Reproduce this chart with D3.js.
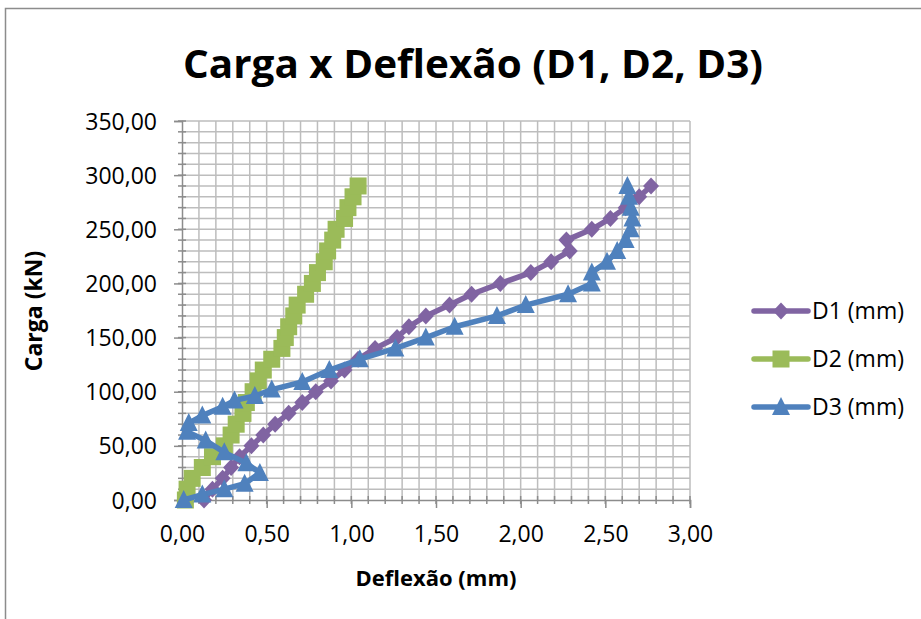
<!DOCTYPE html>
<html lang="pt">
<head>
<meta charset="UTF-8">
<title>Carga x Deflexão (D1, D2, D3)</title>
<style>
  body { margin: 0; background: #fff; }
  svg { display: block; font-family: "Open Sans", sans-serif; }
</style>
</head>
<body>
<svg width="921" height="619"></svg>
<script src="https://d3js.org/d3.v7.min.js"></script>
<script>
// carga (kN) e deflexão (mm)
const d1Load = [0, 10, 20, 30, 40, 50, 60, 70, 80, 90, 100, 110, 120, 130, 140, 150, 160, 170, 180, 190, 200, 210, 220, 230, 240, 250, 260, 270, 280, 290];
const d1Defl = [0.13, 0.18, 0.24, 0.29, 0.34, 0.41, 0.48, 0.55, 0.63, 0.71, 0.79, 0.88, 0.96, 1.04, 1.14, 1.27, 1.34, 1.44, 1.58, 1.71, 1.88, 2.06, 2.18, 2.29, 2.27, 2.42, 2.53, 2.62, 2.70, 2.77];

const d2Load = [0, 10, 20, 30, 40, 50, 60, 70, 80, 90, 100, 110, 120, 130, 140, 150, 160, 170, 180, 190, 200, 210, 220, 230, 240, 250, 260, 270, 280, 290];
const d2Defl = [0.02, 0.03, 0.06, 0.12, 0.18, 0.25, 0.29, 0.32, 0.36, 0.38, 0.42, 0.45, 0.48, 0.53, 0.59, 0.61, 0.63, 0.66, 0.68, 0.73, 0.77, 0.80, 0.84, 0.86, 0.89, 0.91, 0.96, 0.98, 1.01, 1.04];

const d3Load = [0, 5, 10, 15, 25, 34, 44, 55, 63, 71, 78, 86, 92, 96, 102, 109, 120, 130, 140, 150, 160, 170, 180, 190, 200, 210, 220, 230, 240, 250, 260, 270, 280, 290];
const d3Defl = [0.01, 0.12, 0.25, 0.37, 0.46, 0.38, 0.25, 0.14, 0.03, 0.04, 0.12, 0.24, 0.31, 0.43, 0.53, 0.71, 0.87, 1.05, 1.26, 1.44, 1.61, 1.86, 2.03, 2.28, 2.42, 2.42, 2.51, 2.57, 2.62, 2.65, 2.66, 2.65, 2.64, 2.63];

const xTicks = [0, 0.5, 1, 1.5, 2, 2.5, 3];
const yTicks = [0, 50, 100, 150, 200, 250, 300, 350];

const series = [
  { name: "D1 (mm)", color: "#8064A2", shape: "diamond", load: d1Load, defl: d1Defl },
  { name: "D2 (mm)", color: "#9BBB59", shape: "square", load: d2Load, defl: d2Defl },
  { name: "D3 (mm)", color: "#4F81BD", shape: "triangle", load: d3Load, defl: d3Defl }
];

const svg = d3.select("svg");
const fmt = v => d3.format(".2f")(v).replace(".", ",");

const x = d3.scaleLinear().domain([0, 3]).range([182, 690]);
const y = d3.scaleLinear().domain([0, 350]).range([500, 121]);

// moldura do gráfico
svg.append("rect")
  .attr("x", 5.5).attr("y", 8.5)
  .attr("width", 1000).attr("height", 1000)
  .attr("fill", "#fff")
  .attr("stroke", "#8c8c8c")
  .attr("stroke-width", 1.5);

svg.append("text")
  .attr("x", 473).attr("y", 78)
  .attr("text-anchor", "middle")
  .attr("font-size", 40).attr("font-weight", "bold")
  .attr("textLength", 580).attr("lengthAdjust", "spacingAndGlyphs")
  .text("Carga x Deflexão (D1, D2, D3)");

// grade (principal e secundária)
const grid = svg.append("g").attr("stroke", "#bdbdbd").attr("stroke-width", 1.5);
grid.selectAll(".gx")
  .data(d3.range(1, 31).map(i => i / 10))
  .join("line")
  .attr("x1", d => x(d)).attr("x2", d => x(d))
  .attr("y1", y(0)).attr("y2", y(350));
grid.selectAll(".gy")
  .data(d3.range(1, 36).map(i => i * 10))
  .join("line")
  .attr("x1", x(0)).attr("x2", x(3))
  .attr("y1", d => y(d)).attr("y2", d => y(d));

// eixos
const axisColor = "#8c8c8c";
const xAxis = svg.append("g").attr("transform", `translate(0,${y(0)})`)
  .call(d3.axisBottom(x).tickValues(xTicks).tickSize(8).tickFormat(fmt));
const yAxis = svg.append("g").attr("transform", `translate(${x(0)},0)`)
  .call(d3.axisLeft(y).tickValues(yTicks).tickSize(8).tickFormat(fmt));
[xAxis, yAxis].forEach(a => {
  a.select(".domain").attr("stroke", axisColor).attr("stroke-width", 1.5);
  a.selectAll(".tick line").attr("stroke", axisColor).attr("stroke-width", 1.5);
  a.selectAll("text").attr("fill", "#000").attr("font-size", 23)
    .attr("font-family", "'Open Sans', sans-serif");
});
xAxis.selectAll("text").attr("y", 19).attr("dy", "1em");
yAxis.selectAll("text").attr("x", -25).attr("dy", "0.35em");

// marcas secundárias
svg.append("g").attr("stroke", axisColor).attr("stroke-width", 1.5)
  .selectAll("line")
  .data(d3.range(1, 31).map(i => i / 10))
  .join("line")
  .attr("x1", d => x(d)).attr("x2", d => x(d))
  .attr("y1", y(0) - 4).attr("y2", y(0) + 4);
svg.append("g").attr("stroke", axisColor).attr("stroke-width", 1.5)
  .selectAll("line")
  .data(d3.range(1, 36).map(i => i * 10))
  .join("line")
  .attr("x1", x(0) - 4).attr("x2", x(0) + 4)
  .attr("y1", d => y(d)).attr("y2", d => y(d));

// títulos dos eixos
svg.append("text")
  .attr("x", 436).attr("y", 586)
  .attr("text-anchor", "middle")
  .attr("font-size", 22).attr("font-weight", "bold")
  .text("Deflexão (mm)");
svg.append("text")
  .attr("transform", "translate(42,311) rotate(-90)")
  .attr("text-anchor", "middle")
  .attr("font-size", 23).attr("font-weight", "bold")
  .text("Carga (kN)");

function marker(sel, shape, color) {
  if (shape === "diamond") {
    sel.append("path").attr("d", "M0,-8.5L8,0L0,8.5L-8,0Z").attr("fill", color);
  } else if (shape === "square") {
    sel.append("rect").attr("x", -8.5).attr("y", -8.5).attr("width", 17).attr("height", 17).attr("fill", color);
  } else {
    sel.append("path").attr("d", "M0,-10L9,8L-9,8Z").attr("fill", color);
  }
}

const line = d3.line().x(d => x(d[0])).y(d => y(d[1]));

series.forEach(s => {
  const pts = s.defl.map((v, i) => [v, s.load[i]]);
  const g = svg.append("g");
  g.append("path")
    .attr("d", line(pts))
    .attr("fill", "none")
    .attr("stroke", s.color)
    .attr("stroke-width", 5.5)
    .attr("stroke-linejoin", "round");
  g.selectAll("g")
    .data(pts)
    .join("g")
    .attr("transform", d => `translate(${x(d[0])},${y(d[1])})`)
    .each(function() { marker(d3.select(this), s.shape, s.color); });
});

// legenda
const legend = svg.append("g");
series.forEach((s, i) => {
  const ly = 311 + i * 48;
  const g = legend.append("g");
  g.append("line")
    .attr("x1", 754).attr("x2", 808)
    .attr("y1", ly).attr("y2", ly)
    .attr("stroke", s.color).attr("stroke-width", 5.5)
    .attr("stroke-linecap", "round");
  marker(g.append("g").attr("transform", `translate(781,${ly})`), s.shape, s.color);
  g.append("text")
    .attr("x", 812).attr("y", ly)
    .attr("dy", "0.35em")
    .attr("font-size", 23)
    .text(s.name);
});
</script>
</body>
</html>
